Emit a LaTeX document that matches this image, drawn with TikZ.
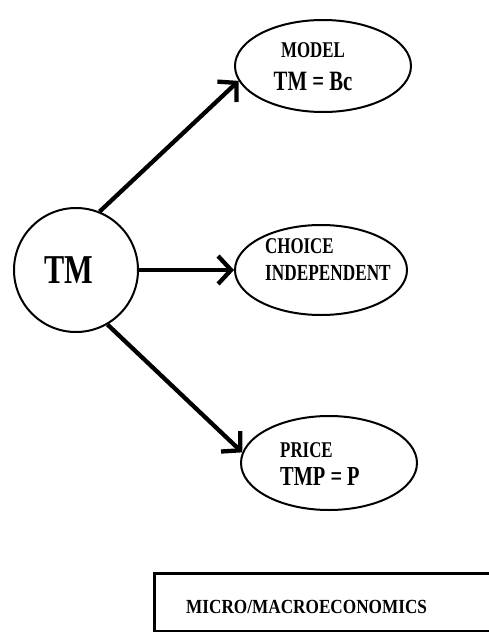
\documentclass[tikz,border=0pt]{standalone}
\usepackage{fontspec}
\setmainfont{Liberation Serif}
\usepackage{graphicx}
\usetikzlibrary{arrows.meta,shapes.geometric}
% narrow the bold capitals horizontally
\newcommand{\narrowtext}[2]{\scalebox{#1}[1]{#2}}

\begin{document}
\begin{tikzpicture}[x=1pt,y=-1pt,
  bubble/.style={draw, line width=2pt, ellipse, inner sep=0pt,
                 minimum width=176pt, minimum height=92pt},
  hub/.style={draw, line width=2pt, circle, inner sep=0pt, minimum size=124pt},
  link/.style={line width=4.3pt, -{Straight Barb[length=13pt,width=28pt]}},
  lbl/.style={inner sep=0pt, font=\bfseries},
  frame/.style={draw, line width=2.5pt, rectangle, anchor=north west,
                minimum width=380pt, minimum height=58pt, inner sep=0pt},
]
\useasboundingbox (0,0) rectangle (489,632);

% central circle
\node[hub] (tm) at (76,270) {};
\node[lbl, anchor=base] (tmtext) at (69,283)
  {\fontsize{41}{44}\selectfont\narrowtext{0.74}{TM}};

% outer ellipses
\node[bubble] (model)  at (323,66)  {};
\node[bubble, minimum width=172pt, minimum height=90pt] (choice) at (321,270) {};
\node[bubble, minimum height=94pt] (price)  at (329,463) {};

% ellipse texts
\node[lbl, anchor=base] (modeltext) at (313,57)
  {\fontsize{22.5}{24}\selectfont\narrowtext{0.75}{MODEL}};
\node[lbl, anchor=base] (modeleq) at (313,90)
  {\fontsize{28}{30}\selectfont\narrowtext{0.74}{TM = Bc}};

\node[lbl, anchor=base west] (choicetext) at (265,253)
  {\fontsize{22.5}{24}\selectfont\narrowtext{0.75}{CHOICE}};
\node[lbl, anchor=base west] (indeptext) at (265,280)
  {\fontsize{23}{24}\selectfont\narrowtext{0.75}{INDEPENDENT}};

\node[lbl, anchor=base west] (pricetext) at (280,457)
  {\fontsize{22.5}{24}\selectfont\narrowtext{0.75}{PRICE}};
\node[lbl, anchor=base west] (priceeq) at (280,485)
  {\fontsize{27.5}{30}\selectfont\narrowtext{0.74}{TMP = P}};

% connectors
\draw[link] (tm.68)  -- (model.190);
\draw[link] (tm.0)   -- (choice.180);
\draw[link] (tm.300) -- (price.173);

% framed caption at the bottom
\node[frame] (econ) at (153,572) {};
\node[lbl, anchor=base west] (econtext) at (186,613)
  {\fontsize{20}{22}\selectfont\narrowtext{0.86}{MICRO/MACROECONOMICS}};
\end{tikzpicture}
\end{document}
